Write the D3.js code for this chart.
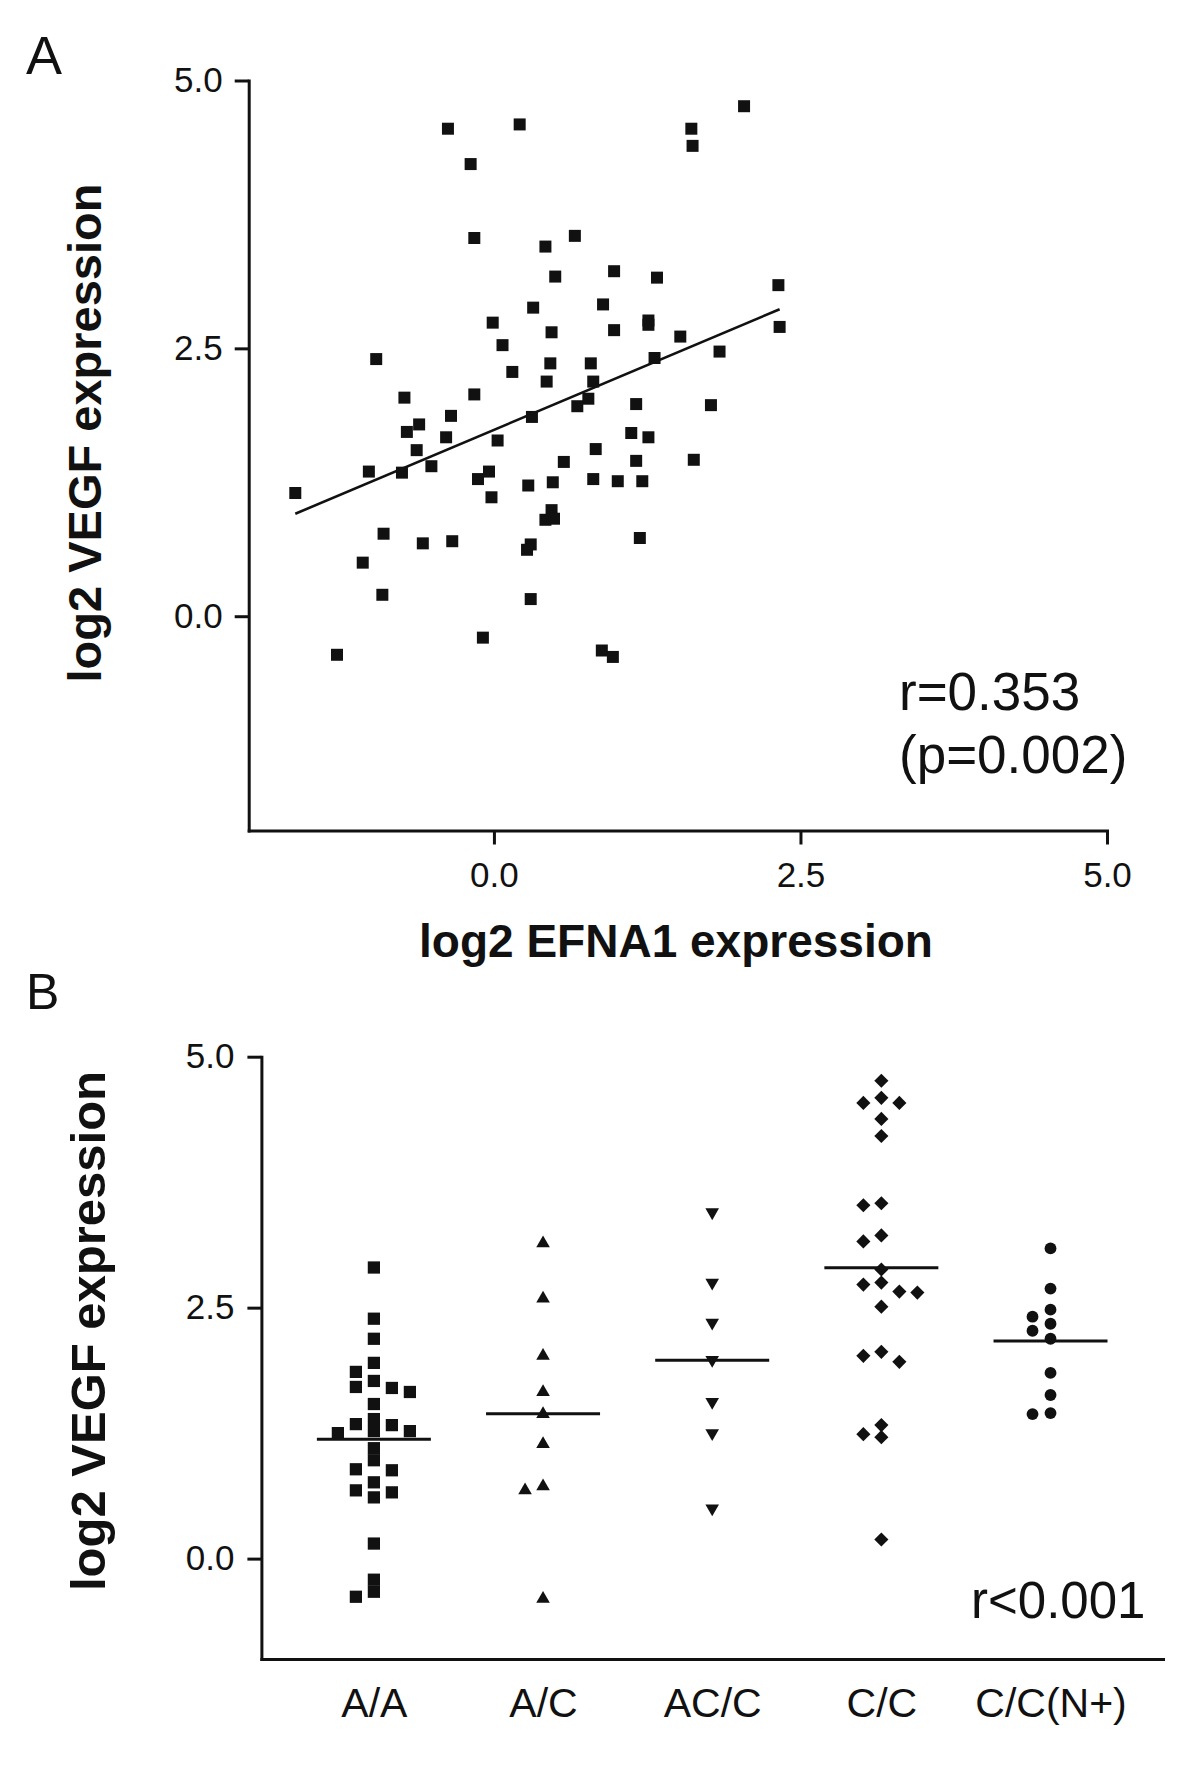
<!DOCTYPE html>
<html><head><meta charset="utf-8">
<script src="https://cdn.jsdelivr.net/npm/d3@7/dist/d3.min.js"></script>
<style>
body{margin:0;background:#fff}
svg text{font-family:"Liberation Sans",Arial,Helvetica,sans-serif;fill:#111}
</style>
</head><body>
<svg id="chart" width="1200" height="1780"></svg>
<script>
// ---------- DATA ----------
// Panel A: log2 EFNA1 (x) vs log2 VEGF (y)
const efna1 = [-1.62,-1.28,-1.07,-1.02,-0.96,-0.90,-0.91,-0.75,-0.73,-0.71,-0.61,-0.63,-0.51,-0.58,-0.35,-0.39,-0.34,-0.16,-0.01,0.07,0.15,0.03,-0.13,-0.04,-0.02,-0.09,0.32,0.31,0.28,0.30,0.27,0.30,0.50,0.47,0.46,0.43,0.48,0.47,0.42,0.49,0.57,0.98,0.89,0.98,0.79,0.81,0.77,0.68,0.83,0.81,1.01,0.88,0.97,1.33,1.26,1.26,1.31,1.16,1.12,1.26,1.16,1.21,1.19,1.52,1.77,1.84,1.63,2.32,2.33,-0.375,0.21,-0.19,-0.16,0.42,0.66,1.61,1.62,2.04];
const vegfA = [1.15,-0.36,0.50,1.35,2.40,0.77,0.20,1.34,2.04,1.72,1.79,1.55,1.40,0.68,1.87,1.67,0.70,2.07,2.74,2.53,2.28,1.64,1.28,1.35,1.11,-0.20,2.88,1.86,1.22,0.67,0.62,0.16,3.17,2.65,2.36,2.19,1.25,0.99,0.90,0.91,1.44,3.22,2.91,2.67,2.36,2.19,2.03,1.96,1.56,1.28,1.26,-0.32,-0.38,3.16,2.76,2.72,2.41,1.98,1.71,1.67,1.45,1.26,0.73,2.61,1.97,2.47,1.46,3.09,2.70,4.55,4.59,4.22,3.53,3.45,3.55,4.55,4.39,4.76];
const xTicksA = [0, 2.5, 5];
const yTicksA = [0, 2.5, 5];
const statsA = ["r=0.353", "(p=0.002)"];

// Panel B: log2 VEGF by genotype
const genotypes = ["A/A", "A/C", "AC/C", "C/C", "C/C(N+)"];
const vegfAA = [2.90,2.39,2.19,1.95,1.86,1.77,1.71,1.70,1.66,1.54,1.39,1.34,1.33,1.27,1.27,1.25,1.10,0.98,0.89,0.88,0.76,0.68,0.66,0.61,0.15,-0.21,-0.33,-0.38];
const vegfAC = [3.14,2.59,2.02,1.66,1.44,1.14,0.72,0.68,-0.40];
const vegfACC = [3.45,2.75,2.35,1.98,1.56,1.25,0.50];
const vegfCC = [4.76,4.59,4.54,4.54,4.38,4.21,3.52,3.54,3.22,3.16,2.88,2.73,2.75,2.65,2.66,2.51,2.06,1.96,2.02,1.24,1.21,1.33,0.19];
const vegfCCN = [3.09,2.69,2.48,2.41,2.34,2.27,2.19,1.85,1.63,1.44,1.45];
const yTicksB = [0, 2.5, 5];
const statsB = "r<0.001";

// ---------- DRAW ----------
const svg = d3.select("#chart");
const fmt = d3.format(".1f");
const ink = "#111";

function styleAxis(g, fontSize) {
  g.selectAll(".domain").attr("stroke", ink).attr("stroke-width", 3).attr("stroke-linecap", "square");
  g.selectAll(".tick line").attr("stroke", ink).attr("stroke-width", 3);
  g.selectAll(".tick text").attr("fill", ink).style("font-size", fontSize + "px")
    .style("font-family", '"Liberation Sans",Arial,sans-serif');
}

// ===== Panel A =====
const xA = d3.scaleLinear().domain([-2, 5]).range([248.7, 1107]);
const yA = d3.scaleLinear().domain([-2, 5]).range([830.5, 80.5]);

svg.append("g").attr("transform", `translate(${xA(-2)},0)`)
  .call(d3.axisLeft(yA).tickValues(yTicksA).tickFormat(fmt).tickSizeInner(14).tickSizeOuter(0).tickPadding(12))
  .call(g => styleAxis(g, 35));
svg.append("g").attr("transform", `translate(0,${yA(-2)})`)
  .call(d3.axisBottom(xA).tickValues(xTicksA).tickFormat(fmt).tickSizeInner(14).tickSizeOuter(0).tickPadding(18))
  .call(g => styleAxis(g, 35));

const ptsA = efna1.map((x, i) => ({x, y: vegfA[i]}));
// least-squares fit
const mx = d3.mean(ptsA, d => d.x), my = d3.mean(ptsA, d => d.y);
const slope = d3.sum(ptsA, d => (d.x - mx) * (d.y - my)) / d3.sum(ptsA, d => (d.x - mx) ** 2);
const icpt = my - slope * mx;
const xr = d3.extent(ptsA, d => d.x);
svg.append("line")
  .attr("x1", xA(xr[0])).attr("y1", yA(icpt + slope * xr[0]))
  .attr("x2", xA(xr[1])).attr("y2", yA(icpt + slope * xr[1]))
  .attr("stroke", ink).attr("stroke-width", 2.6);

svg.append("g").selectAll("path").data(ptsA).join("path")
  .attr("d", d3.symbol(d3.symbolSquare, 144))
  .attr("transform", d => `translate(${xA(d.x)},${yA(d.y)})`)
  .attr("fill", ink);

svg.append("text").attr("x", 26).attr("y", 74).style("font-size", "54px").text("A");
svg.append("text").attr("transform", "translate(101,433) rotate(-90)").attr("text-anchor", "middle")
  .style("font-size", "47px").style("font-weight", "bold").text("log2 VEGF expression");
svg.append("text").attr("x", 676).attr("y", 957).attr("text-anchor", "middle")
  .style("font-size", "46px").style("font-weight", "bold").text("log2 EFNA1 expression");
svg.append("g").selectAll("text").data(statsA).join("text")
  .attr("x", 899).attr("y", (d, i) => 710 + i * 63)
  .style("font-size", "53px").text(d => d);

// ===== Panel B =====
const xB = d3.scalePoint().domain(genotypes).range([261.4, 1163]).padding(0.665);
const yB = d3.scaleLinear().domain([-1, 5]).range([1659, 1056.7]);

svg.append("g").attr("transform", `translate(261.4,0)`)
  .call(d3.axisLeft(yB).tickValues(yTicksB).tickFormat(fmt).tickSizeInner(14).tickSizeOuter(0).tickPadding(13))
  .call(g => styleAxis(g, 35));
svg.append("g").attr("transform", `translate(0,${yB(-1)})`)
  .call(d3.axisBottom(xB).tickSize(0).tickPadding(28.6))
  .call(g => styleAxis(g, 41));

const groupVals = [vegfAA, vegfAC, vegfACC, vegfCC, vegfCCN];
const shapes = [
  {type: d3.symbolSquare, size: 150, rot: 0},
  {type: d3.symbolTriangle, size: 80, rot: 0},
  {type: d3.symbolTriangle, size: 80, rot: 180},
  {type: d3.symbolSquare, size: 100, rot: 45},
  {type: d3.symbolCircle, size: 110, rot: 0}
];
const laneW = 18, sep = 12;
const laneOrder = [0, -1, 1, 2, -2, 3, -3];

genotypes.forEach((gname, gi) => {
  const vals = groupVals[gi].slice().sort((a, b) => b - a);
  const placed = [];
  const pts = vals.map(v => {
    const py = yB(v);
    let lane = laneOrder.find(l => placed.every(p => p.lane !== l || Math.abs(p.py - py) >= sep));
    if (lane === undefined) lane = 0;
    placed.push({lane, py});
    return {v, lane};
  });
  const cx = xB(gname);
  svg.append("g").selectAll("path").data(pts).join("path")
    .attr("d", d3.symbol(shapes[gi].type, shapes[gi].size))
    .attr("transform", d => `translate(${cx + d.lane * laneW},${yB(d.v)}) rotate(${shapes[gi].rot})`)
    .attr("fill", ink);
  const m = d3.mean(groupVals[gi]);
  svg.append("line").attr("x1", cx - 57).attr("x2", cx + 57)
    .attr("y1", yB(m)).attr("y2", yB(m))
    .attr("stroke", ink).attr("stroke-width", 3);
});

svg.append("text").attr("x", 26).attr("y", 1009).style("font-size", "50px").text("B");
svg.append("text").attr("transform", "translate(105,1331) rotate(-90)").attr("text-anchor", "middle")
  .style("font-size", "49px").style("font-weight", "bold").text("log2 VEGF expression");
svg.append("text").attr("x", 971).attr("y", 1618).style("font-size", "51px").text(statsB);
</script>
</body></html>
